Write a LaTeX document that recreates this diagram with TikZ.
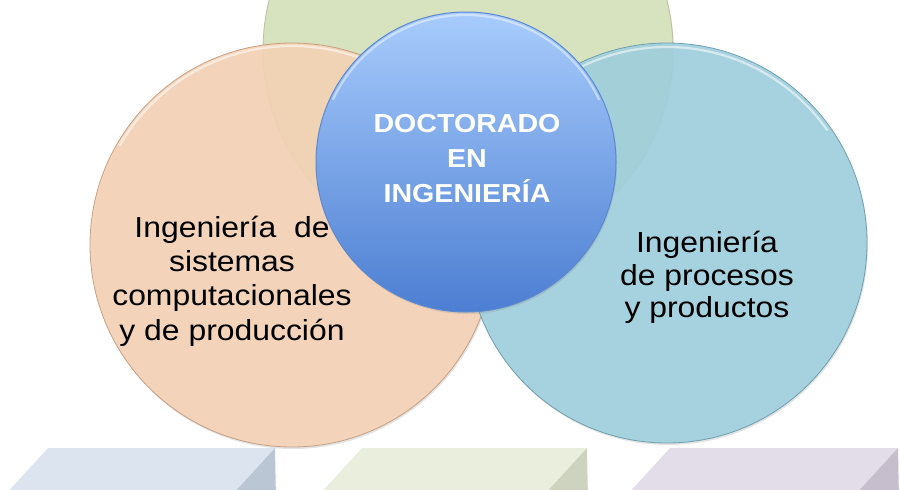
\documentclass[tikz,border=0pt]{standalone}
\usepackage{fontspec}
\newfontfamily\wfont[FakeStretch=1.1]{Liberation Sans}
\usetikzlibrary{shadows}
\definecolor{greenc}{RGB}{215,226,191}
\definecolor{greenedge}{RGB}{184,195,152}
\definecolor{peachc}{RGB}{245,211,182}
\definecolor{peachedge}{RGB}{200,160,130}
\definecolor{tealc}{RGB}{160,208,222}
\definecolor{tealedge}{RGB}{110,160,176}
\definecolor{bluetop}{RGB}{168,204,252}
\definecolor{bluebot}{RGB}{76,126,210}
\definecolor{blueedge}{RGB}{92,138,210}
\definecolor{boxAtop}{RGB}{220,228,240}
\definecolor{boxAside}{RGB}{186,198,212}
\definecolor{boxBtop}{RGB}{233,238,221}
\definecolor{boxBside}{RGB}{206,211,191}
\definecolor{boxCtop}{RGB}{227,221,234}
\definecolor{boxCside}{RGB}{198,190,204}
\begin{document}
\begin{tikzpicture}[x=1pt,y=-1pt,
  bubble/.style={circle, inner sep=0pt, minimum size=#1},
  softshadow/.style={drop shadow={opacity=0.22, shadow xshift=1pt, shadow yshift=-2pt}},
  rim/.style={white, line width=2.2pt, opacity=0.55},
  lbl/.style={align=center, text=black, inner sep=0pt},
  ctr/.style={align=center, text=white, inner sep=0pt}]
\useasboundingbox (0,0) rectangle (900,490);
\clip (0,0) rectangle (900,490);
\fill[white] (0,0) rectangle (900,490);
% bottom boxes
\fill[boxAtop] (48,448) -- (275,448) -- (227.5,500) -- (0.5,500) -- cycle;
\fill[boxAside] (275,448) -- (276,500) -- (227.5,500) -- cycle;
\fill[boxBtop] (362,448) -- (587,448) -- (539.4,500) -- (314.4,500) -- cycle;
\fill[boxBside] (587,448) -- (588,500) -- (539.4,500) -- cycle;
\fill[boxCtop] (670,448) -- (898,448) -- (850.4,500) -- (622.4,500) -- cycle;
\fill[boxCside] (898,448) -- (899,500) -- (850.4,500) -- cycle;
% circles
\node[bubble=410pt, fill=greenc, draw=greenedge, line width=0.8pt, softshadow] (green) at (468,50) {};
\node[bubble=404pt, fill=peachc, fill opacity=0.9, draw=peachedge, line width=0.8pt, softshadow] (peach) at (292,245) {};
\node[bubble=400pt, fill=tealc, fill opacity=0.9, draw=tealedge, line width=0.8pt, softshadow] (teal) at (667,243) {};
\draw[rim] (peach.center) ++(-150:199) arc[start angle=-150, end angle=-40, radius=199];
\draw[rim] (teal.center) ++(-140:196) arc[start angle=-140, end angle=-35, radius=196];
\node[bubble=300pt, top color=bluetop, bottom color=bluebot, draw=blueedge, line width=1pt, softshadow] (blue) at (466,162) {};
\draw[rim, opacity=0.45] (blue.center) ++(-155:147) arc[start angle=-155, end angle=-25, radius=147];
% texts
\node[ctr, font=\wfont\bfseries\fontsize{26}{35}\selectfont] (ctext) at (467,159) {DOCTORADO\\EN\\INGENIERÍA};
\node[lbl, font=\wfont\fontsize{29}{34.3}\selectfont] (ptext) at (232,281) {Ingeniería~~de\\sistemas\\computacionales\\y de producción};
\node[lbl, font=\wfont\fontsize{29}{32.3}\selectfont] (ttext) at (707,277.5) {Ingeniería\\de procesos\\y productos};
\end{tikzpicture}
\end{document}
